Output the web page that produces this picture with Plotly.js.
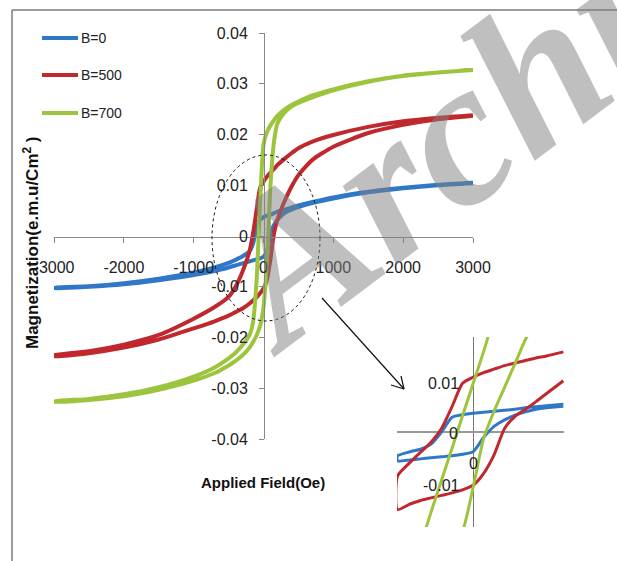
<!DOCTYPE html>
<html><head><meta charset="utf-8">
<script src="https://cdn.plot.ly/plotly-3.0.1.min.js"></script>
<style>html,body{margin:0;padding:0;background:#fff}#chart{width:617px;height:561px}</style>
</head><body><div id="chart"></div>
<script>
// ---- main chart data: applied field grid (Oe) and magnetization (e.m.u/cm2)
const field = [-3000,-2500,-2000,-1500,-1000,-700,-500,-400,-300,-200,-150,-100,-50,0,50,100,150,200,300,400,500,700,1000,1500,2000,2500,3000];
// descending branch (coming from +3000) and ascending branch (coming from -3000)
const b0Desc   = [-0.0102,-0.0099,-0.0093,-0.0084,-0.0072,-0.0062,-0.0053,-0.0047,-0.0040,-0.0030,-0.0015,0.0015,0.0032,0.0037,0.0040,0.0042,0.0045,0.0048,0.0052,0.0056,0.0060,0.0067,0.0076,0.0087,0.0095,0.0101,0.0105];
const b0Asc    = [-0.0103,-0.0100,-0.0095,-0.0087,-0.0077,-0.0069,-0.0062,-0.0058,-0.0054,-0.0050,-0.0048,-0.0046,-0.0044,-0.0041,-0.0030,0.0005,0.0022,0.0032,0.0045,0.0052,0.0057,0.0065,0.0074,0.0086,0.0094,0.0100,0.0104];
const b500Desc = [-0.0235,-0.0227,-0.0214,-0.0195,-0.0163,-0.0140,-0.0120,-0.0100,-0.0070,-0.0030,0.0005,0.0050,0.0094,0.0107,0.0117,0.0125,0.0132,0.0140,0.0152,0.0163,0.0173,0.0186,0.0199,0.0215,0.0226,0.0233,0.0238];
const b500Asc  = [-0.0237,-0.0231,-0.0220,-0.0204,-0.0182,-0.0168,-0.0157,-0.0150,-0.0143,-0.0133,-0.0127,-0.0121,-0.0113,-0.0104,-0.0085,-0.0045,0.0005,0.0032,0.0068,0.0097,0.0120,0.0150,0.0176,0.0203,0.0219,0.0230,0.0237];
const b700Desc = [-0.0326,-0.0321,-0.0312,-0.0298,-0.0277,-0.0259,-0.0241,-0.0230,-0.0215,-0.0195,-0.0170,-0.0090,0.0060,0.0180,0.0205,0.0218,0.0228,0.0237,0.0249,0.0258,0.0265,0.0277,0.0289,0.0305,0.0316,0.0322,0.0327];
const b700Asc  = [-0.0327,-0.0323,-0.0316,-0.0303,-0.0285,-0.0270,-0.0255,-0.0246,-0.0235,-0.0220,-0.0209,-0.0196,-0.0178,-0.0140,-0.0050,0.0100,0.0185,0.0222,0.0243,0.0255,0.0262,0.0273,0.0287,0.0304,0.0315,0.0322,0.0327];

// ---- inset (zoomed centre) data
const insetField = [-360,-300,-250,-200,-150,-100,-50,0,50,100,150,200,250,300,350,430];
const in0Desc   = [-0.0047,-0.0039,-0.0034,-0.0024,0.0000,0.0029,0.0034,0.0037,0.0039,0.0041,0.0043,0.0045,0.0048,0.0050,0.0052,0.0055];
const in0Asc    = [-0.0057,-0.0055,-0.0053,-0.0051,-0.0049,-0.0047,-0.0044,-0.0039,-0.0011,0.0011,0.0024,0.0033,0.0040,0.0045,0.0048,0.0051];
const in500Desc = [-0.0087,-0.0060,-0.0040,-0.0020,0.0007,0.0050,0.0096,0.0108,0.0117,0.0124,0.0131,0.0136,0.0141,0.0146,0.0150,0.0158];
const in500Asc  = [-0.0153,-0.0142,-0.0135,-0.0130,-0.0125,-0.0120,-0.0114,-0.0105,-0.0082,-0.0045,0.0007,0.0031,0.0045,0.0060,0.0076,0.0101];
const in700Desc = [-0.0280,-0.0255,-0.0221,-0.0158,-0.0095,-0.0032,0.0032,0.0095,0.0158,0.0222,0.0245,0.0255,0.0262,0.0267,0.0271,0.0276];
const in700Asc  = [-0.0280,-0.0270,-0.0262,-0.0252,-0.0238,-0.0220,-0.0195,-0.0110,-0.0013,0.0041,0.0088,0.0135,0.0183,0.0215,0.0235,0.0250];

const seriesNames = ['B=0','B=500','B=700'];
const seriesColors = ['#2f78c8','#c0282e','#9cc43c'];
const xTicks = [-3000,-2000,-1000,0,1000,2000,3000];
const xTickText = ['-3000','-2000','-1000','0','1000','2000','3000'];
const yTicks = [-0.04,-0.03,-0.02,-0.01,0,0.01,0.02,0.03,0.04];
const yTickText = ['-0.04','-0.03','-0.02','-0.01','0','0.01','0.02','0.03','0.04'];

const W = 617, H = 561;
const px = v => v / W;
const py = v => (H - v) / H;
const loopX = g => g.slice().reverse().concat(g);
const loopY = (d, a) => d.slice().reverse().concat(a);

const mainD = [[b0Desc,b0Asc],[b500Desc,b500Asc],[b700Desc,b700Asc]];
const inD = [[in0Desc,in0Asc],[in500Desc,in500Asc],[in700Desc,in700Asc]];
const traces = [];
mainD.forEach((p,i)=>traces.push({x:loopX(field),y:loopY(p[0],p[1]),mode:'lines',name:seriesNames[i],
  line:{color:seriesColors[i],width:4,shape:'spline',smoothing:0.6},xaxis:'x',yaxis:'y',hoverinfo:'skip'}));
inD.forEach((p,i)=>traces.push({x:loopX(insetField),y:loopY(p[0],p[1]),mode:'lines',name:seriesNames[i]+' (inset)',
  line:{color:seriesColors[i],width:3,shape:'spline',smoothing:0.6},xaxis:'x2',yaxis:'y2',hoverinfo:'skip',showlegend:false}));

const tickFont = {family:'Liberation Sans, Arial, sans-serif', size:16, color:'#222'};
const ann = [];
const shapes = [];
// legend (drawn manually)
[38,75,113].forEach((yy,i)=>{
  shapes.push({type:'line',xref:'paper',yref:'paper',x0:px(42),x1:px(78),y0:py(yy),y1:py(yy),line:{color:seriesColors[i],width:4}});
  ann.push({xref:'paper',yref:'paper',x:px(79),y:py(yy),xanchor:'left',yanchor:'middle',showarrow:false,text:seriesNames[i],font:{family:'Liberation Sans, Arial',size:14,color:'#222'}});
});
// frame
shapes.push({type:'line',xref:'paper',yref:'paper',x0:px(12),x1:1,y0:py(10),y1:py(10),line:{color:'#7a7a7a',width:1.5}});
shapes.push({type:'line',xref:'paper',yref:'paper',x0:px(12),x1:px(12),y0:py(10),y1:0,line:{color:'#7a7a7a',width:1.5}});
// dotted ellipse and arrow
shapes.push({type:'circle',xref:'paper',yref:'paper',x0:px(212),x1:px(320),y0:py(321),y1:py(155),line:{color:'#111',width:1,dash:'dot'}});
shapes.push({type:'line',xref:'paper',yref:'paper',x0:px(322),y0:py(298),x1:px(404),y1:py(389),line:{color:'#111',width:1.2}});
shapes.push({type:'line',xref:'paper',yref:'paper',x0:px(404),y0:py(389),x1:px(391),y1:py(385),line:{color:'#111',width:1.2}});
shapes.push({type:'line',xref:'paper',yref:'paper',x0:px(404),y0:py(389),x1:px(401),y1:py(376),line:{color:'#111',width:1.2}});

// axis titles
ann.push({xref:'paper',yref:'paper',x:px(263),y:py(482),xanchor:'center',yanchor:'middle',showarrow:false,text:'Applied Field(Oe)',
  font:{family:'Liberation Sans Narrow, Arial Narrow, Liberation Sans, Arial',size:15,color:'#111',weight:'bold'}});
ann.push({xref:'paper',yref:'paper',x:px(31),y:py(243),xanchor:'center',yanchor:'middle',showarrow:false,textangle:-90,text:'Magnetization(e.m.u/Cm<sup>2</sup> )',
  font:{family:'Liberation Sans, Arial',size:17,color:'#111',weight:'bold'}});
// inset labels
[['0.01',443,383],['-0.01',441,485],['0',453,433],['0',473,463]].forEach(t=>{
  ann.push({xref:'paper',yref:'paper',x:px(t[1]),y:py(t[2]),xanchor:'center',yanchor:'middle',showarrow:false,text:t[0],font:tickFont});
});
// watermark
ann.push({xref:'paper',yref:'paper',x:px(503),y:py(97),xanchor:'center',yanchor:'middle',showarrow:false,text:'Archive',textangle:-37,
  font:{family:'Liberation Serif, Times New Roman, serif',size:208,color:'rgba(128,128,128,0.5)',weight:'bold',style:'italic'}});

const layout = {
  width:W,height:H,margin:{l:0,r:0,t:0,b:0},showlegend:false,
  paper_bgcolor:'#fff',plot_bgcolor:'rgba(0,0,0,0)',
  xaxis:{domain:[px(54),px(473)],range:[-3000,3000],anchor:'free',position:py(237),
    tickvals:xTicks,ticktext:xTickText,ticks:'outside',ticklen:5,tickcolor:'#888',
    showline:true,linecolor:'#888',linewidth:1,showgrid:false,zeroline:false,
    tickfont:tickFont,ticklabelstandoff:11,fixedrange:true},
  yaxis:{domain:[py(439),py(33)],range:[-0.04,0.04],anchor:'free',position:px(264),
    tickvals:yTicks,ticktext:yTickText,ticks:'outside',ticklen:5,tickcolor:'#888',
    showline:true,linecolor:'#888',linewidth:1,showgrid:false,zeroline:false,
    tickfont:tickFont,ticklabelstandoff:8,fixedrange:true},
  xaxis2:{domain:[px(397),px(564)],range:[-362,433],anchor:'y2',showticklabels:false,ticks:'',
    showgrid:false,showline:false,zeroline:true,zerolinecolor:'#777',zerolinewidth:1,fixedrange:true},
  yaxis2:{domain:[py(527),py(337)],range:[-0.01874,0.01874],anchor:'x2',showticklabels:false,ticks:'',
    showgrid:false,showline:false,zeroline:true,zerolinecolor:'#999',zerolinewidth:1.5,fixedrange:true},
  shapes:shapes,annotations:ann
};
Plotly.newPlot('chart',traces,layout,{staticPlot:true,displayModeBar:false});
</script></body></html>
